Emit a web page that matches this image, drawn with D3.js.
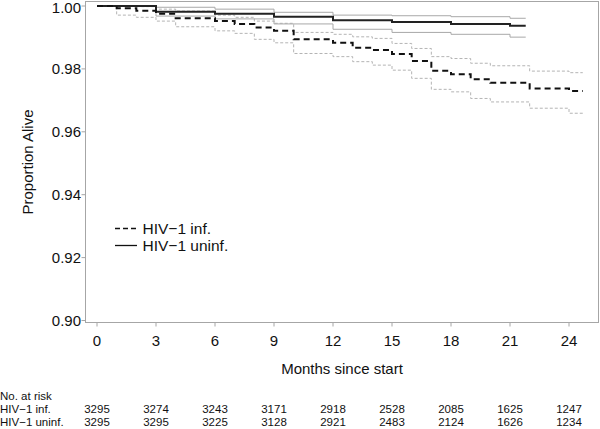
<!DOCTYPE html>
<html>
<head>
<meta charset="utf-8">
<script src="https://cdn.jsdelivr.net/npm/d3@7"></script>
<style>
  body { margin: 0; background: #fff; }
  text { font-family: "Liberation Sans", Arial, sans-serif; fill: #111; }
</style>
</head>
<body>
<script>
// HIV-1 infected: step times (months) and survival estimate with CI
const infTimes = [0, 1, 2, 3, 4, 6, 7, 8, 9, 10, 12, 13, 14, 15, 16, 17, 18, 19, 20, 22, 24];
const infEst = [1.0, 0.9993, 0.9985, 0.9975, 0.9961, 0.9952, 0.9943, 0.9932, 0.9921, 0.9894, 0.9883,
  0.9867, 0.9860, 0.9847, 0.9825, 0.9794, 0.9783, 0.9767, 0.9756, 0.9738, 0.9730];
const infHi = [1.0, 1.0, 0.9998, 0.9990, 0.9984, 0.9971, 0.9964, 0.9952, 0.9945, 0.9916, 0.9910,
  0.9902, 0.9897, 0.9881, 0.9865, 0.9839, 0.9833, 0.9818, 0.9810, 0.9793, 0.9788];
const infLo = [1.0, 0.9971, 0.9964, 0.9952, 0.9934, 0.9921, 0.9913, 0.9894, 0.9883, 0.9849, 0.9839,
  0.9823, 0.9812, 0.9796, 0.9770, 0.9735, 0.9727, 0.9706, 0.9695, 0.9675, 0.9659];
const infEnd = 24.7;

// HIV-1 uninfected
const uninfTimes = [0, 3, 6, 9, 12, 15, 18, 21];
const uninfEst = [1.0, 0.9982, 0.9975, 0.9966, 0.9955, 0.9949, 0.9943, 0.9937];
const uninfHi = [1.0, 0.9996, 0.9990, 0.9980, 0.9971, 0.9969, 0.9966, 0.9961];
const uninfLo = [1.0, 0.9968, 0.9959, 0.9943, 0.9926, 0.9916, 0.9910, 0.9901];
const uninfEnd = 21.8;

const xTicks = [0, 3, 6, 9, 12, 15, 18, 21, 24];
const yTicks = [0.90, 0.92, 0.94, 0.96, 0.98, 1.00];
const riskInf = [3295, 3274, 3243, 3171, 2918, 2528, 2085, 1625, 1247];
const riskUninf = [3295, 3295, 3225, 3128, 2921, 2483, 2124, 1626, 1234];

const w = 600, h = 429;
const svg = d3.select(document.body).append('svg')
  .attr('width', w).attr('height', h);

const x = d3.scaleLinear().domain([0, 24]).range([97, 569]);
const y = d3.scaleLinear().domain([0.90, 1.00]).range([320.5, 6]);
const frame = { left: 85.5, right: 598.5, top: 1.5, bottom: 322.5 };

// frame
svg.append('rect')
  .attr('x', frame.left).attr('y', frame.top)
  .attr('width', frame.right - frame.left).attr('height', frame.bottom - frame.top)
  .attr('fill', 'none').attr('stroke', '#a6a6a6').attr('stroke-width', 1);

// x ticks
const xg = svg.append('g');
xg.selectAll('line').data(xTicks).enter().append('line')
  .attr('x1', d => x(d)).attr('x2', d => x(d))
  .attr('y1', frame.bottom).attr('y2', frame.bottom + 4)
  .attr('stroke', '#a6a6a6');
xg.selectAll('text').data(xTicks).enter().append('text')
  .attr('x', d => x(d)).attr('y', 346)
  .attr('text-anchor', 'middle').style('font-size', '15px')
  .text(d => d);

// y ticks
const yg = svg.append('g');
yg.selectAll('line').data(yTicks).enter().append('line')
  .attr('x1', frame.left - 4).attr('x2', frame.left)
  .attr('y1', d => y(d)).attr('y2', d => y(d))
  .attr('stroke', '#a6a6a6');
yg.selectAll('text').data(yTicks).enter().append('text')
  .attr('x', 81).attr('y', d => Math.max(y(d), 8)).attr('dy', '0.36em')
  .attr('text-anchor', 'end').style('font-size', '15px')
  .text(d => d3.format('.2f')(d));

// axis titles
svg.append('text')
  .attr('x', (frame.left + frame.right) / 2).attr('y', 373.5)
  .attr('text-anchor', 'middle').style('font-size', '15px')
  .text('Months since start');
svg.append('text')
  .attr('transform', `translate(33, ${(frame.top + frame.bottom) / 2}) rotate(-90)`)
  .attr('text-anchor', 'middle').style('font-size', '15px')
  .text('Proportion Alive');

// curves
const line = d3.line()
  .x(d => x(d[0])).y(d => y(d[1]))
  .curve(d3.curveStepAfter);
const pts = (times, vals, end) => times.map((t, i) => [t, vals[i]]).concat([[end, vals[vals.length - 1]]]);

const g = svg.append('g');
// confidence bands
g.append('path').attr('d', line(pts(infTimes, infHi, infEnd)))
  .attr('fill', 'none').attr('stroke', '#b4b4b4').attr('stroke-width', 1).attr('stroke-dasharray', '3,2');
g.append('path').attr('d', line(pts(infTimes, infLo, infEnd)))
  .attr('fill', 'none').attr('stroke', '#b4b4b4').attr('stroke-width', 1).attr('stroke-dasharray', '3,2');
g.append('path').attr('d', line(pts(uninfTimes, uninfHi, uninfEnd)))
  .attr('fill', 'none').attr('stroke', '#a8a8a8').attr('stroke-width', 1);
g.append('path').attr('d', line(pts(uninfTimes, uninfLo, uninfEnd)))
  .attr('fill', 'none').attr('stroke', '#a8a8a8').attr('stroke-width', 1);
// estimates
g.append('path').attr('d', line(pts(uninfTimes, uninfEst, uninfEnd)))
  .attr('fill', 'none').attr('stroke', '#222').attr('stroke-width', 2);
g.append('path').attr('d', line(pts(infTimes, infEst, infEnd)))
  .attr('fill', 'none').attr('stroke', '#111').attr('stroke-width', 2).attr('stroke-dasharray', '6,4');

// legend
const legend = [
  { label: 'HIV\u22121 inf.', dash: '5,3', y: 228.5 },
  { label: 'HIV\u22121 uninf.', dash: null, y: 245.5 }
];
const lg = svg.append('g');
legend.forEach(d => {
  lg.append('line')
    .attr('x1', 115).attr('x2', 137).attr('y1', d.y).attr('y2', d.y)
    .attr('stroke', '#111').attr('stroke-width', 1.3)
    .attr('stroke-dasharray', d.dash);
  lg.append('text')
    .attr('x', 142.5).attr('y', d.y).attr('dy', '0.36em')
    .style('font-size', '15.5px')
    .text(d.label);
});

// number at risk table
const rt = svg.append('g').style('font-size', '11.5px');
const rowY = [400, 413, 426];
rt.append('text').attr('x', 0).attr('y', rowY[0]).text('No. at risk');
rt.append('text').attr('x', 0).attr('y', rowY[1]).text('HIV\u22121 inf.');
rt.append('text').attr('x', 0).attr('y', rowY[2]).text('HIV\u22121 uninf.');
rt.selectAll('.r1').data(riskInf).enter().append('text')
  .attr('class', 'r1')
  .attr('x', (d, i) => x(xTicks[i])).attr('y', rowY[1])
  .attr('text-anchor', 'middle').text(d => d);
rt.selectAll('.r2').data(riskUninf).enter().append('text')
  .attr('class', 'r2')
  .attr('x', (d, i) => x(xTicks[i])).attr('y', rowY[2])
  .attr('text-anchor', 'middle').text(d => d);
</script>
</body>
</html>
